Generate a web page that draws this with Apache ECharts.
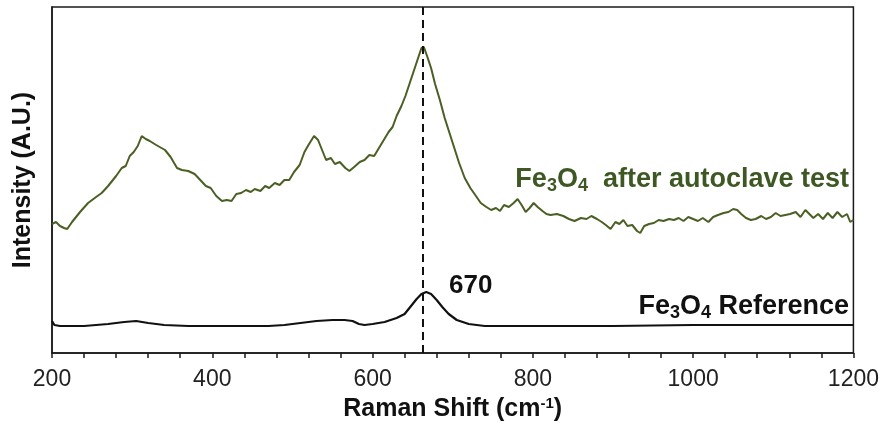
<!DOCTYPE html>
<html>
<head>
<meta charset="utf-8">
<script src="https://cdn.jsdelivr.net/npm/echarts@6/dist/echarts.min.js"></script>
<style>
  html, body { margin: 0; padding: 0; background: #fff; }
  #chart { width: 882px; height: 427px; }
</style>
</head>
<body>
<div id="chart"></div>
<script>
// Raman shift (cm-1) and intensity (arbitrary units)
var afterShift = [200, 205, 210, 215, 219, 225, 235, 245, 255, 262, 270, 280, 287, 292, 297, 302, 307, 312, 317, 322,
  330, 341, 348, 356, 362, 370, 378, 385, 392, 398, 405, 412, 418, 424, 430, 436, 442, 448, 453, 460,
  466, 471, 478, 484, 490, 496, 502, 509, 515, 520, 527, 532, 537, 542, 548, 553, 559, 566, 571, 577,
  584, 590, 596, 602, 608, 614, 620, 625, 630, 636, 641, 646, 651, 656, 661, 664, 668, 673, 678, 684,
  690, 696, 702, 708, 715, 722, 729, 735, 742, 748, 754, 759, 764, 770, 776, 781, 786, 791, 796, 801,
  806, 812, 817, 822, 830, 838, 845, 852, 860, 867, 873, 880, 886, 891, 897, 903, 908, 913, 918, 924,
  930, 934, 939, 945, 951, 957, 963, 970, 976, 982, 988, 994, 1000, 1006, 1012, 1019, 1025, 1031, 1038, 1044,
  1050, 1055, 1060, 1066, 1072, 1078, 1085, 1091, 1097, 1103, 1109, 1115, 1121, 1128, 1134, 1140, 1145, 1150, 1156, 1162,
  1168, 1174, 1180, 1186, 1192, 1196, 1200];
var afterIntensity = [129, 131, 127, 125, 124, 131, 141, 150, 156, 160, 167, 177, 185, 187, 197, 201, 207, 217, 214, 212,
  208, 203, 196, 185, 183, 182, 179, 173, 167, 165, 157, 152, 153, 152, 159, 160, 163, 161, 164, 162,
  167, 165, 170, 168, 173, 173, 181, 188, 201, 208, 217, 213, 203, 193, 195, 189, 191, 185, 182, 186,
  191, 193, 198, 197, 205, 213, 221, 226, 237, 247, 257, 269, 281, 293, 305, 306, 297, 285, 269, 253,
  235, 220, 205, 190, 175, 165, 157, 150, 146, 143, 145, 142, 148, 146, 150, 154, 148, 141, 145, 150,
  146, 142, 139, 138, 139, 137, 134, 132, 135, 134, 137, 134, 131, 128, 124, 131, 129, 133, 127, 128,
  122, 120, 127, 129, 130, 133, 132, 134, 133, 135, 132, 136, 134, 132, 135, 131, 136, 138, 140, 141,
  144, 143, 139, 135, 133, 134, 137, 134, 136, 140, 137, 138, 139, 141, 136, 143, 139, 135, 139, 134,
  140, 135, 141, 136, 139, 131, 133];

var refShift = [200, 203, 210, 240, 270, 290, 305, 320, 340, 370, 420, 470, 490, 510, 530, 550, 565, 575, 583, 590,
  600, 615, 630, 640, 648, 655, 661, 667, 673, 680, 687, 695, 705, 720, 740, 800, 900, 1000, 1100, 1200];
var refIntensity = [32, 28, 27, 27, 29, 31, 32, 30, 28, 27, 27, 27, 28, 30, 32, 33, 33, 32, 29, 28,
  29, 31, 35, 39, 47, 54, 59, 61, 59, 53, 46, 39, 33, 29, 27, 27, 27, 28, 28, 28];

var peakShift = 662;
var peakLabel = '670';

function pairs(xs, ys) {
  return xs.map(function (x, i) { return [x, ys[i]]; });
}

var chart = echarts.init(document.getElementById('chart'));
var font = '"Liberation Sans", Arial, sans-serif';

function labelRich(color) {
  return {
    a: { fontFamily: font, fontWeight: 'bold', fontSize: 27, fill: color, color: color },
    s: { fontFamily: font, fontWeight: 'bold', fontSize: 18, fill: color, color: color, padding: [14, 0, 0, 0] }
  };
}

chart.setOption({
  animation: false,
  backgroundColor: '#fff',
  grid: {
    left: 52, right: 27, top: 7, bottom: 74,
    show: true, borderColor: '#1a1a1a', borderWidth: 1.5
  },
  xAxis: {
    type: 'value',
    min: 200, max: 1200, interval: 200,
    name: '{a|Raman Shift (cm}{s|-1}{a|)}',
    nameLocation: 'middle',
    nameGap: 41,
    nameTextStyle: {
      rich: {
        a: { fontFamily: font, fontWeight: 'bold', fontSize: 25, color: '#111' },
        s: { fontFamily: font, fontWeight: 'bold', fontSize: 15, color: '#111', padding: [0, 0, 12, 0] }
      }
    },
    axisLine: { lineStyle: { color: '#1a1a1a', width: 1.5 } },
    axisTick: { length: 5, lineStyle: { color: '#1a1a1a', width: 1.5 } },
    minorTick: { show: true, splitNumber: 5, length: 5, lineStyle: { color: '#1a1a1a', width: 1.5 } },
    splitLine: { show: false },
    axisLabel: {
      fontFamily: font, fontSize: 23, color: '#222', margin: 15,
      formatter: function (v) { return String(v); }
    }
  },
  yAxis: {
    type: 'value',
    min: 0, max: 346,
    name: 'Intensity (A.U.)',
    nameLocation: 'middle',
    nameGap: 16,
    nameTextStyle: { fontFamily: font, fontWeight: 'bold', fontSize: 25, color: '#111' },
    axisLine: { show: true, lineStyle: { color: '#1a1a1a', width: 1.5 } },
    axisTick: { show: false },
    axisLabel: { show: false },
    splitLine: { show: false }
  },
  series: [
    {
      name: 'Fe3O4 after autoclave test',
      type: 'line',
      data: pairs(afterShift, afterIntensity),
      showSymbol: false,
      lineStyle: { color: '#4a5f24', width: 2 },
      markLine: {
        silent: true,
        symbol: 'none',
        label: { show: false },
        lineStyle: { color: '#111', width: 2, type: [8, 5] },
        data: [{ xAxis: peakShift }]
      }
    },
    {
      name: 'Fe3O4 Reference',
      type: 'line',
      data: pairs(refShift, refIntensity),
      showSymbol: false,
      lineStyle: { color: '#111', width: 2.2 }
    }
  ],
  graphic: [
    {
      type: 'text', left: 449, top: 273,
      style: { text: peakLabel, font: 'bold 26px ' + font, fill: '#111' }
    },
    {
      type: 'text', right: 33, top: 293,
      style: { text: '{a|Fe}{s|3}{a|O}{s|4}{a| Reference}', rich: labelRich('#111') }
    },
    {
      type: 'text', right: 33, top: 166,
      style: { text: '{a|Fe}{s|3}{a|O}{s|4}{a|  after autoclave test}', rich: labelRich('#3e5823') }
    }
  ]
});
</script>
</body>
</html>
